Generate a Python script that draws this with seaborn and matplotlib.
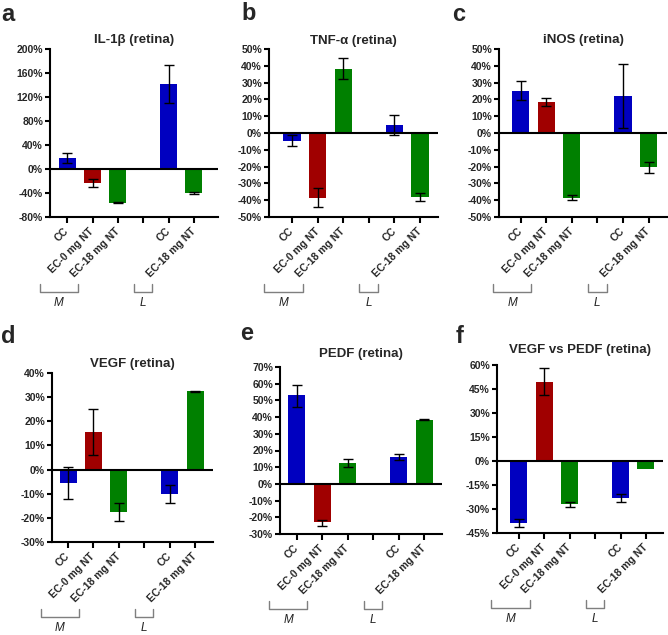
import numpy as np
import pandas as pd
import matplotlib
matplotlib.use("Agg")
import matplotlib.pyplot as plt
import matplotlib.transforms as mtransforms
import seaborn as sns

# ---------------- data ----------------
categories = ["CC", "EC-0 mg NT", "EC-18 mg NT", "CC", "EC-18 mg NT"]
positions = [0, 1, 2, 4, 5]
groups = ["CC", "EC-0", "EC-18", "CC", "EC-18"]

titles = ["IL-1β (retina)", "TNF-α (retina)", "iNOS (retina)",
          "VEGF (retina)", "PEDF (retina)", "VEGF vs PEDF (retina)"]
panel_letters = ["a", "b", "c", "d", "e", "f"]

il1b_mean = [18, -23, -56, 142, -40]
il1b_lo = [10, -30, -57, 110, -41]
il1b_hi = [26, -17, -55, 174, -39]

tnf_mean = [-4.5, -38.5, 38, 5, -38]
tnf_lo = [-8, -44, 32, -1, -40.5]
tnf_hi = [-1, -33, 44.5, 11, -36]

inos_mean = [25, 18.5, -38.5, 22, -20.5]
inos_lo = [19.5, 16, -40, 3, -24]
inos_hi = [31, 21, -37, 41, -17.5]

vegf_mean = [-5.5, 15.5, -17.5, -10, 32.5]
vegf_lo = [-12, 6, -21.5, -14, 32.3]
vegf_hi = [1, 25, -14, -6.5, 32.7]

pedf_mean = [53, -23, 12.5, 16, 38.5]
pedf_lo = [46, -25, 10, 14.5, 38.3]
pedf_hi = [59.5, -21.5, 15, 18, 38.7]

vp_mean = [-38.5, 49.5, -27, -23, -5]
vp_lo = [-41, 41, -28.5, -25.5, np.nan]
vp_hi = [-36, 58, -25.5, -20.5, np.nan]

yticks_a = [-80, -40, 0, 40, 80, 120, 160, 200]
yticks_b = [-50, -40, -30, -20, -10, 0, 10, 20, 30, 40, 50]
yticks_c = [-50, -40, -30, -20, -10, 0, 10, 20, 30, 40, 50]
yticks_d = [-30, -20, -10, 0, 10, 20, 30, 40]
yticks_e = [-30, -20, -10, 0, 10, 20, 30, 40, 50, 60, 70]
yticks_f = [-45, -30, -15, 0, 15, 30, 45, 60]

bracket_labels = ["M", "L"]

palette = {"CC": "#0000C0", "EC-0": "#A00000", "EC-18": "#008000"}

# ---------------- style ----------------
sns.set_style("ticks")
plt.rcParams["font.family"] = ["Liberation Sans", "DejaVu Sans"]

W, H = 668, 635
fig = plt.figure(figsize=(W / 100, H / 100), dpi=100)

# axes boxes in pixels: left, top, right, bottom
boxes = [(50, 49, 218, 217), (269, 49, 438, 217), (499, 49, 667, 217),
         (52, 373, 213, 542), (280, 367, 442, 534), (497, 365, 663, 533)]
xlims = [(-0.68, 5.95), (-0.9, 5.7), (-0.85, 5.72),
         (-0.63, 5.7), (-0.65, 5.7), (-0.86, 5.67)]
title_pads = [4.5, 3.5, 4, 4.5, 7, 9]
letter_pos = [(1, 21), (241, 20), (452, 21), (1, 343), (240, 340), (456, 343)]

panels = [
    (il1b_mean, il1b_lo, il1b_hi, yticks_a),
    (tnf_mean, tnf_lo, tnf_hi, yticks_b),
    (inos_mean, inos_lo, inos_hi, yticks_c),
    (vegf_mean, vegf_lo, vegf_hi, yticks_d),
    (pedf_mean, pedf_lo, pedf_hi, yticks_e),
    (vp_mean, vp_lo, vp_hi, yticks_f),
]

for i, (mean, lo, hi, yt) in enumerate(panels):
    l, t, r, b = boxes[i]
    ax = fig.add_axes([l / W, 1 - b / H, (r - l) / W, (b - t) / H])
    df = pd.DataFrame({"pos": positions, "val": mean, "grp": groups})
    sns.barplot(data=df, x="pos", y="val", hue="grp", palette=palette,
                native_scale=True, dodge=False, width=0.67, legend=False,
                ax=ax, linewidth=0, saturation=1, zorder=2)
    mean_a = np.array(mean, float)
    lo_a = np.array(lo, float)
    hi_a = np.array(hi, float)
    ok = np.isfinite(lo_a)
    ax.errorbar(np.array(positions)[ok], mean_a[ok],
                yerr=[mean_a[ok] - lo_a[ok], hi_a[ok] - mean_a[ok]],
                fmt="none", ecolor="black", elinewidth=1, capsize=3.5,
                capthick=1, zorder=3)
    ax.axhline(0, color="black", lw=1.5, zorder=4)

    ax.set_xlim(*xlims[i])
    ax.set_ylim(yt[0], yt[-1])
    ax.set_yticks(yt)
    ax.set_yticklabels([f"{v}%" for v in yt], fontweight="bold", fontsize=7.5)
    ax.set_xticks([0, 1, 2, 3, 4, 5])
    ax.set_xticklabels([categories[0], categories[1], categories[2], "",
                        categories[3], categories[4]],
                       rotation=45, ha="right", va="center",
                       rotation_mode="anchor", fontweight="bold", fontsize=7.5)
    ax.tick_params(axis="x", length=4, width=1.5, pad=5, color="black")
    ax.tick_params(axis="y", length=3.5, width=1.5, pad=1.5, color="black")
    ax.set_xlabel("")
    ax.set_ylabel("")
    for s in ["top", "right"]:
        ax.spines[s].set_visible(False)
    for s in ["left", "bottom"]:
        ax.spines[s].set_linewidth(1.5)
        ax.spines[s].set_color("black")
    ax.set_title(titles[i], fontweight="bold", fontsize=9.5, pad=title_pads[i])

    # group brackets
    hpx = b - t
    trans = mtransforms.blended_transform_factory(ax.transData, ax.transAxes)
    yb = -75 / hpx
    yt2 = -67 / hpx
    ytxt = -86 / hpx
    for (x0, x1), lab in zip([(-1.08, 0.42), (2.63, 3.36)], bracket_labels):
        ax.plot([x0, x0, x1, x1], [yt2, yb, yb, yt2], color="#7f7f7f",
                lw=1, transform=trans, clip_on=False)
        ax.text((x0 + x1) / 2, ytxt, lab, transform=trans, ha="center",
                va="center", fontstyle="italic", fontsize=8.5, color="#222222")

    lx, ly = letter_pos[i]
    fig.text(lx / W, 1 - ly / H, panel_letters[i], fontsize=17,
             fontweight="bold", ha="left", va="baseline")

fig.savefig("out.png", dpi=100)
